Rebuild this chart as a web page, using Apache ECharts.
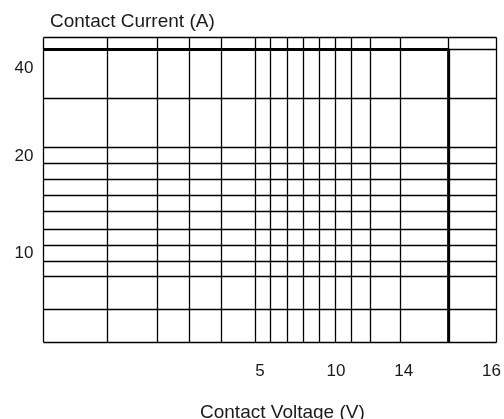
<!DOCTYPE html>
<html>
<head>
<meta charset="utf-8">
<script src="https://cdn.jsdelivr.net/npm/echarts@6/dist/echarts.min.js"></script>
<style>html,body{margin:0;padding:0;background:#fff}#c{width:504px;height:419px}</style>
</head>
<body>
<div id="c"></div>
<script>
// Grid divisions (diagram units along each axis)
var voltageGridLines = [0, 64, 114, 146, 178, 212, 227, 244, 260, 276, 292, 308, 327, 358, 406, 454];
var currentGridLines = [0, 33, 66, 81, 97, 113, 131, 147, 163, 179, 195, 244, 293, 305];
// Tick labels and where they sit on the diagram
var voltageTickLabels = ['5', '10', '14', '16'];
var voltageTickPos = [217, 293, 361, 449];
var currentTickLabels = ['40', '20', '10'];
var currentTickPos = [274, 186, 89];
// Maximum switching boundary (voltage unit, current unit)
var boundaryX = [0, 406, 406];
var boundaryY = [293, 293, 0];

var chart = echarts.init(document.getElementById('c'), null, {renderer: 'canvas'});
var lines = voltageGridLines.map(function (v) { return {xAxis: v}; })
  .concat(currentGridLines.map(function (v) { return {yAxis: v}; }));
var boundary = boundaryX.map(function (x, i) { return [x, boundaryY[i]]; });
var font = 'Liberation Sans, Arial, sans-serif';
chart.setOption({
  animation: false,
  backgroundColor: '#fff',
  title: [
    {text: 'Contact Current (A)', left: 45, top: 7, textStyle: {fontFamily: font, fontSize: 19, fontWeight: 'normal', color: '#1a1a1a'}},
    {text: 'Contact Voltage (V)', left: 195, top: 398, textStyle: {fontFamily: font, fontSize: 19, fontWeight: 'normal', color: '#1a1a1a'}}
  ],
  grid: {left: 43.5, right: 6.5, top: 37.5, bottom: 76.5, containLabel: false},
  xAxis: {
    type: 'value', min: 0, max: 454,
    axisLine: {show: false}, axisTick: {show: false}, splitLine: {show: false},
    axisLabel: {
      customValues: voltageTickPos, margin: 20,
      fontFamily: font, fontSize: 17, color: '#1a1a1a',
      formatter: function (v) { var i = voltageTickPos.indexOf(v); return i >= 0 ? voltageTickLabels[i] : ''; }
    }
  },
  yAxis: {
    type: 'value', min: 0, max: 305,
    axisLine: {show: false}, axisTick: {show: false}, splitLine: {show: false},
    axisLabel: {
      customValues: currentTickPos, margin: 10,
      fontFamily: font, fontSize: 17, color: '#1a1a1a',
      formatter: function (v) { var i = currentTickPos.indexOf(v); return i >= 0 ? currentTickLabels[i] : ''; }
    }
  },
  series: [{
    type: 'line',
    data: boundary,
    symbol: 'none',
    lineStyle: {color: '#000', width: 3},
    z: 5,
    markLine: {
      silent: true,
      symbol: ['none', 'none'],
      label: {show: false},
      lineStyle: {color: '#000', width: 1.3, type: 'solid'},
      data: lines,
      animation: false
    }
  }]
});
</script>
</body>
</html>
